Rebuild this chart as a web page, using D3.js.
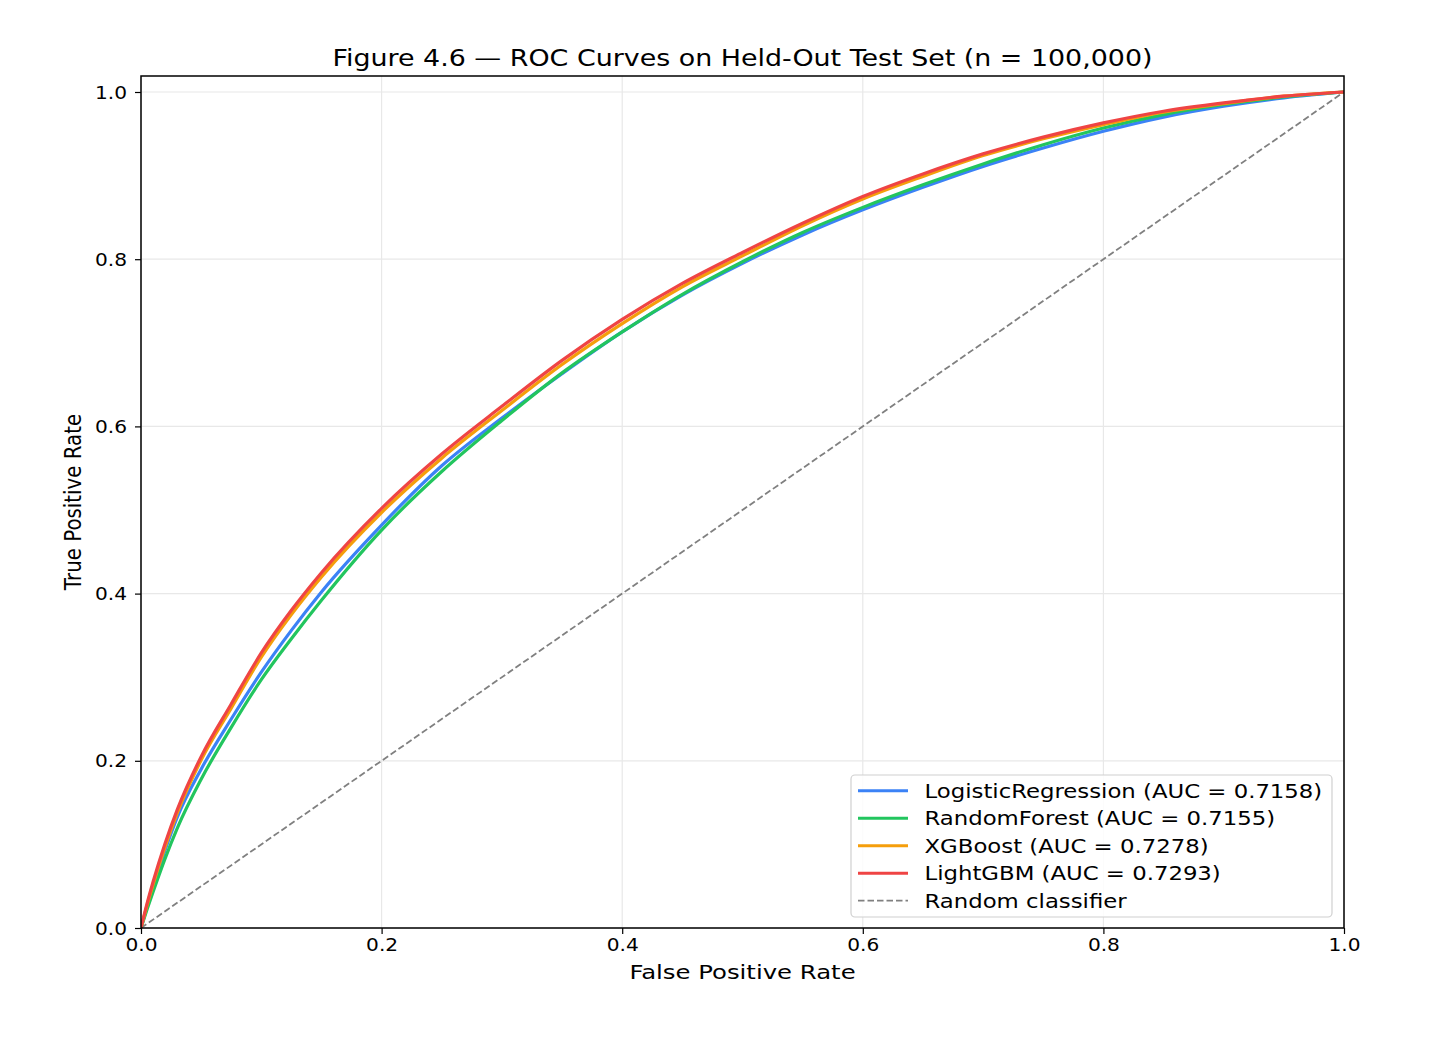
<!DOCTYPE html>
<html>
<head>
<meta charset="utf-8">
<script src="https://cdn.jsdelivr.net/npm/d3@7"></script>
<style>
  html, body { margin: 0; padding: 0; background: #fff; }
  text { font-family: "DejaVu Sans", sans-serif; fill: #000; }
</style>
</head>
<body>
<svg id="chart" width="1450" height="1050"></svg>
<script>
// ---------------- data ----------------
const fprGrid = [0, 0.005, 0.01, 0.02, 0.03, 0.05, 0.075, 0.1, 0.125, 0.15, 0.2, 0.25, 0.3, 0.35, 0.4, 0.45, 0.5, 0.55, 0.6, 0.65, 0.7, 0.75, 0.8, 0.85, 0.9, 0.95, 1];
const tprLogisticRegression = [0, 0.025, 0.049, 0.093, 0.132, 0.190, 0.250, 0.306, 0.356, 0.402, 0.482, 0.553, 0.610, 0.663, 0.713, 0.757, 0.795, 0.829, 0.859, 0.886, 0.911, 0.933, 0.953, 0.970, 0.983, 0.993, 1];
const tprRandomForest     = [0, 0.022, 0.043, 0.083, 0.119, 0.178, 0.240, 0.297, 0.346, 0.392, 0.476, 0.546, 0.607, 0.664, 0.713, 0.758, 0.797, 0.832, 0.862, 0.889, 0.914, 0.937, 0.957, 0.973, 0.985, 0.994, 1];
const tprXGBoost          = [0, 0.027, 0.052, 0.097, 0.137, 0.201, 0.263, 0.324, 0.375, 0.420, 0.497, 0.562, 0.619, 0.674, 0.723, 0.767, 0.804, 0.840, 0.872, 0.899, 0.924, 0.944, 0.961, 0.976, 0.986, 0.995, 1];
const tprLightGBM         = [0, 0.029, 0.055, 0.101, 0.141, 0.205, 0.268, 0.329, 0.380, 0.425, 0.502, 0.567, 0.624, 0.679, 0.728, 0.771, 0.808, 0.843, 0.875, 0.902, 0.926, 0.946, 0.963, 0.977, 0.987, 0.995, 1];
const modelNames = ["LogisticRegression", "RandomForest", "XGBoost", "LightGBM"];
const modelAUC = ["0.7158", "0.7155", "0.7278", "0.7293"];
const modelColors = ["#3b82f6", "#22c55e", "#f59e0b", "#ef4444"];
const tickValues = [0, 0.2, 0.4, 0.6, 0.8, 1.0];
const chartTitle = "Figure 4.6 \u2014 ROC Curves on Held-Out Test Set (n = 100,000)";
const xLabel = "False Positive Rate";
const yLabel = "True Positive Rate";
const diagLabel = "Random classifier";

// ---------------- layout ----------------
const svg = d3.select("#chart");
const pL = 141, pR = 1344, pT = 76, pB = 928;
const SX = 1.2; // horizontal text stretch

const x = d3.scaleLinear().domain([0, 1]).range([pL, pR]);
const y = d3.scaleLinear().domain([0, 1]).range([pB, 92]);

// grid
const grid = svg.append("g");
grid.selectAll("line.gx").data(tickValues).enter().append("line")
  .attr("x1", d => x(d)).attr("x2", d => x(d))
  .attr("y1", pT).attr("y2", pB)
  .attr("stroke", "#e8e8e8").attr("stroke-width", 1.2);
grid.selectAll("line.gy").data(tickValues).enter().append("line")
  .attr("x1", pL).attr("x2", pR)
  .attr("y1", d => y(d)).attr("y2", d => y(d))
  .attr("stroke", "#e8e8e8").attr("stroke-width", 1.2);

// clip
svg.append("clipPath").attr("id", "clip").append("rect")
  .attr("x", pL).attr("y", pT).attr("width", pR - pL).attr("height", pB - pT);

const plot = svg.append("g").attr("clip-path", "url(#clip)");

// diagonal
plot.append("path")
  .attr("d", d3.line().x(d => x(d)).y(d => y(d))([0, 1]))
  .attr("fill", "none").attr("stroke", "#808080").attr("stroke-width", 1.8)
  .attr("stroke-dasharray", "6.5,3");

const series = [tprLogisticRegression, tprRandomForest, tprXGBoost, tprLightGBM];
const line = d3.line().x((d, i) => x(fprGrid[i])).y(d => y(d)).curve(d3.curveMonotoneX);
series.forEach((s, k) => {
  plot.append("path").attr("d", line(s))
    .attr("fill", "none").attr("stroke", modelColors[k]).attr("stroke-width", 3.2)
    .attr("stroke-linejoin", "round").attr("stroke-linecap", "round");
});

// frame
svg.append("rect").attr("x", pL).attr("y", pT)
  .attr("width", pR - pL).attr("height", pB - pT)
  .attr("fill", "none").attr("stroke", "#000").attr("stroke-width", 1.5);

// axes
const fmt = d3.format(".1f");
const xAxis = svg.append("g").attr("transform", `translate(0,${pB})`)
  .call(d3.axisBottom(x).tickValues(tickValues).tickFormat(fmt).tickSize(6).tickPadding(5));
const yAxis = svg.append("g").attr("transform", `translate(${pL},0)`)
  .call(d3.axisLeft(y).tickValues(tickValues).tickFormat(fmt).tickSize(6).tickPadding(5));
[xAxis, yAxis].forEach(a => {
  a.select(".domain").remove();
  a.selectAll(".tick line").attr("stroke", "#000").attr("stroke-width", 1.2);
  a.selectAll(".tick text").attr("font-size", 16.8).attr("font-family", "DejaVu Sans").attr("fill", "#000");
});
xAxis.selectAll(".tick text").attr("dy", null).attr("y", 0)
  .attr("transform", `translate(0,23) scale(${SX},1)`);
yAxis.selectAll(".tick text").attr("dy", null).attr("x", 0).attr("y", 0)
  .attr("transform", `translate(-14,6) scale(${SX},1)`);

// title & labels
svg.append("text").attr("text-anchor", "middle").attr("font-size", 22.4)
  .attr("transform", `translate(${(pL + pR) / 2},66) scale(${SX},1)`).text(chartTitle);
svg.append("text").attr("text-anchor", "middle").attr("font-size", 20.3)
  .attr("transform", `translate(${(pL + pR) / 2},979) scale(${SX},1)`).text(xLabel);
svg.append("text").attr("text-anchor", "middle").attr("font-size", 19.8)
  .attr("transform", `translate(81,${(pT + pB) / 2}) scale(${SX},1) rotate(-90)`).text(yLabel);

// legend
const lg = svg.append("g");
lg.append("rect").attr("x", 851).attr("y", 775).attr("width", 481).attr("height", 142)
  .attr("rx", 4).attr("fill", "#fff").attr("fill-opacity", 0.85)
  .attr("stroke", "#d0d0d0").attr("stroke-width", 1.2);
const entries = modelNames.map((n, i) => ({ label: `${n} (AUC = ${modelAUC[i]})`, color: modelColors[i], dash: null, w: 3 }))
  .concat([{ label: diagLabel, color: "#808080", dash: "6.5,3", w: 1.8 }]);
entries.forEach((e, i) => {
  const cy = 790.7 + i * 27.5;
  lg.append("line").attr("x1", 858).attr("x2", 908).attr("y1", cy).attr("y2", cy)
    .attr("stroke", e.color).attr("stroke-width", e.w).attr("stroke-dasharray", e.dash);
  lg.append("text").attr("font-size", 19)
    .attr("transform", `translate(924.5,${cy + 7}) scale(${SX},1)`).text(e.label);
});
</script>
</body>
</html>
